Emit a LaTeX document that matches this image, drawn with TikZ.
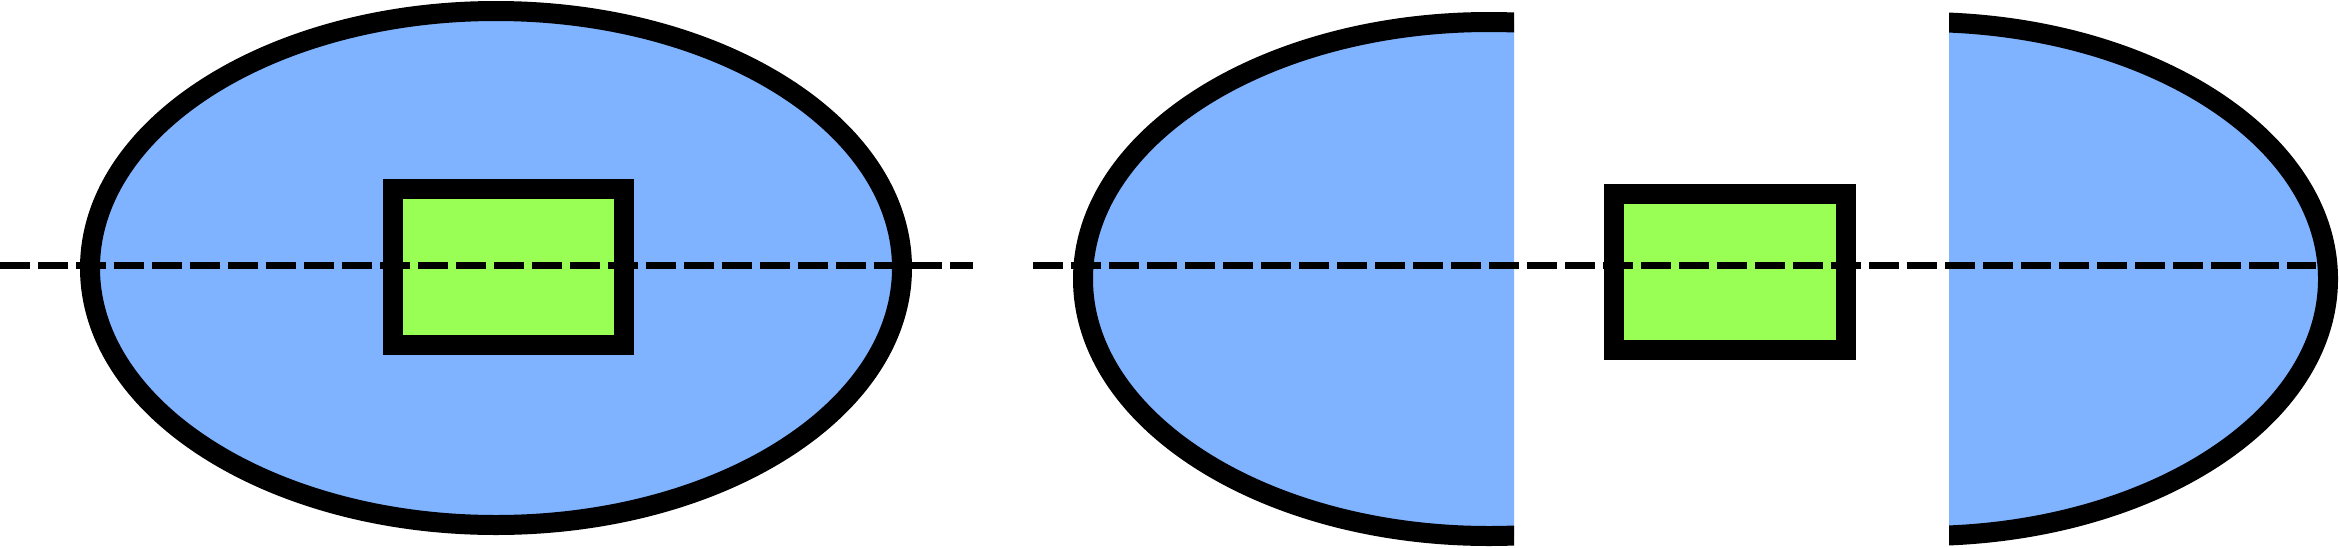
\documentclass[tikz,border=0pt]{standalone}
\definecolor{lensblue}{RGB}{128,179,255}
\definecolor{boxgreen}{RGB}{153,255,85}
\tikzset{
  lens/.style={fill=lensblue, draw=black, line width=20pt},
  block/.style={fill=boxgreen, draw=black, line width=20pt},
  axisline/.style={draw=black, line width=7.5pt, dash pattern=on 30pt off 8pt}
}
\begin{document}
\begin{tikzpicture}[x=1pt,y=-1pt]
\useasboundingbox (0,0) rectangle (2339,547);
% left whole ellipse with block
\path[lens] (496,268) ellipse [x radius=406, y radius=257];
\path[block] (393,189) rectangle (624,345);
% split ellipse: left part
\begin{scope}
  \clip (1000,-10) rectangle (1514,560);
  \path[lens] (1489,279) ellipse [x radius=406, y radius=257];
\end{scope}
% split ellipse: right part
\begin{scope}
  \clip (1949,-10) rectangle (2400,560);
  \path[lens] (1922,279) ellipse [x radius=406, y radius=257];
\end{scope}
\path[block] (1614,193.5) rectangle (1846,350);
% axes
\coordinate (a1) at (0,265.5);
\coordinate (a2) at (973,265.5);
\coordinate (b1) at (1033,265.5);
\coordinate (b2) at (2316,265.5);
\draw[axisline] (a1) -- (a2);
\draw[axisline] (b1) -- (b2);
\end{tikzpicture}
\end{document}
